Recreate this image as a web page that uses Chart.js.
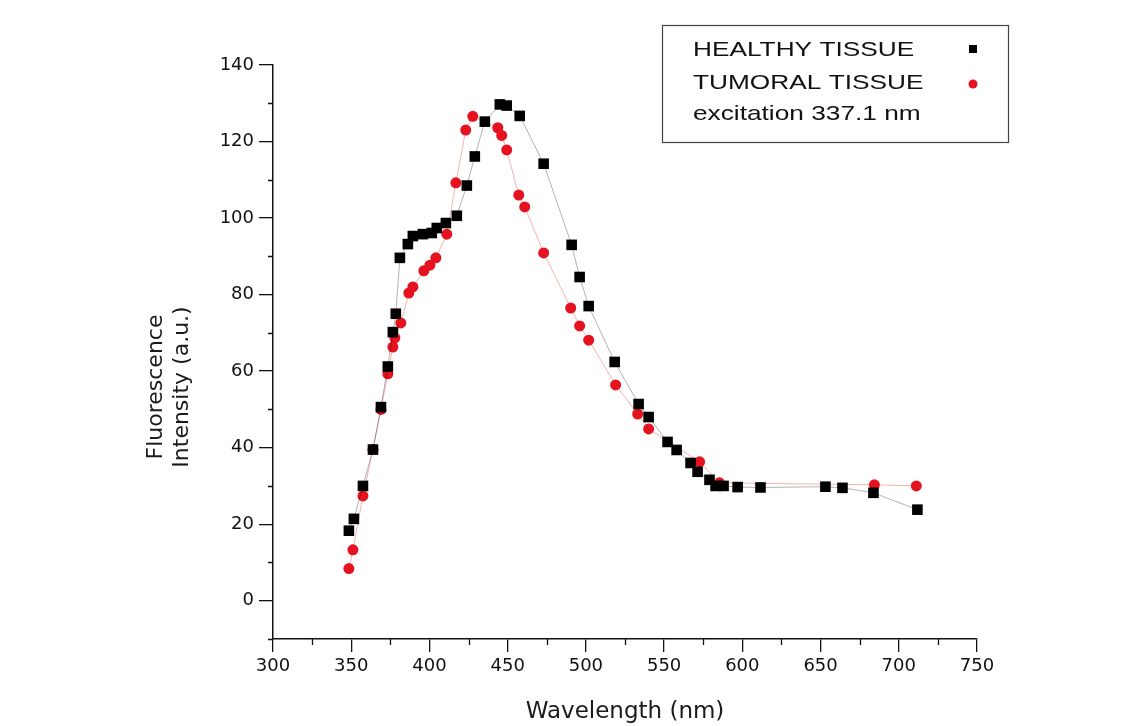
<!DOCTYPE html>
<html>
<head>
<meta charset="utf-8">
<script src="https://cdn.jsdelivr.net/npm/chart.js@4.4.1/dist/chart.umd.min.js"></script>
<style>
  html, body { margin:0; padding:0; background:#fff; }
  #wrap { width:1143px; height:726px; }
</style>
</head>
<body>
<div id="wrap"><canvas id="chart" width="1143" height="726"></canvas></div>
<script>
// healthy tissue (black squares)
const healthyWl = [348.5, 351.7, 357.5, 363.9, 369, 373.4, 376.6, 378.5, 381.1, 386.2, 389.4, 395.8,
  401.5, 404.7, 410.5, 417.5, 423.9, 429, 435.4, 445, 449.4, 457.7, 473, 490.9, 496, 501.8, 518.4,
  533.7, 540.1, 552.2, 558, 566.9, 571.4, 579, 582.9, 588, 597, 611.6, 653.1, 664, 683.8, 711.9];
const healthyInt = [18.3, 21.4, 30, 39.5, 50.6, 61.2, 70.2, 75, 89.6, 93.2, 95.3, 95.8,
  96.1, 97.4, 98.7, 100.6, 108.5, 116.1, 125.2, 129.7, 129.4, 126.7, 114.2, 93, 84.6, 77, 62.4,
  51.4, 48, 41.5, 39.4, 36, 33.7, 31.6, 30, 30, 29.7, 29.6, 29.8, 29.5, 28.2, 23.8];

// tumoral tissue (red circles)
const tumoralWl = [348.5, 351.1, 357.5, 363.9, 369, 373.4, 376.6, 377.9, 381.7, 386.8, 389.4, 396.4,
  400.3, 404.1, 411.1, 416.9, 423.2, 427.7, 443.7, 446.2, 449.4, 457.1, 460.9, 473, 490.3, 496,
  501.8, 519, 533.1, 540.1, 572.7, 585.4, 684.4, 711.2];
const tumoralInt = [8.4, 13.3, 27.4, 39.5, 50, 59.3, 66.3, 68.7, 72.6, 80.4, 82, 86.2,
  87.7, 89.6, 95.8, 109.2, 123, 126.6, 123.6, 121.6, 117.8, 106, 102.9, 90.9, 76.5, 71.8,
  68.1, 56.4, 48.8, 44.9, 36.3, 30.8, 30.3, 30];

const xTicks = [300, 350, 400, 450, 500, 550, 600, 650, 700, 750];
const xMinor = [325, 375, 425, 475, 525, 575, 625, 675, 725];
const yTicks = [0, 20, 40, 60, 80, 100, 120, 140];
const yMinor = [-10, 10, 30, 50, 70, 90, 110, 130];

const yTitle = ["Fluorescence", "Intensity (a.u.)"];
const legendRows = ["HEALTHY TISSUE", "TUMORAL TISSUE", "excitation 337.1 nm"];

function toPoints(xs, ys){ return xs.map((x, i) => ({ x, y: ys[i] })); }

// short minor ticks on both axes + the two-line y title
const axisExtras = {
  id: "axisExtras",
  afterDraw(chart){
    const { ctx, chartArea, scales: { x, y } } = chart;
    ctx.save();
    ctx.strokeStyle = "#111";
    ctx.lineWidth = 1.3;
    ctx.beginPath();
    xMinor.forEach(v => {
      const px = Math.round(x.getPixelForValue(v)) + 0.5;
      ctx.moveTo(px, chartArea.bottom);
      ctx.lineTo(px, chartArea.bottom + 6);
    });
    yMinor.forEach(v => {
      const py = Math.round(y.getPixelForValue(v)) + 0.5;
      ctx.moveTo(chartArea.left, py);
      ctx.lineTo(chartArea.left - 5, py);
    });
    ctx.stroke();

    ctx.fillStyle = "#1a1a1a";
    ctx.font = '22px "DejaVu Sans", sans-serif';
    ctx.textAlign = "center";
    ctx.textBaseline = "middle";
    [156, 182].forEach((cx, i) => {
      ctx.save();
      ctx.translate(cx, 387);
      ctx.rotate(-Math.PI / 2);
      ctx.fillText(yTitle[i], 0, 0);
      ctx.restore();
    });
    ctx.restore();
  }
};

// boxed legend top right
const boxLegend = {
  id: "boxLegend",
  afterDraw(chart){
    const ctx = chart.ctx;
    ctx.save();
    ctx.strokeStyle = "#444";
    ctx.lineWidth = 1.2;
    ctx.strokeRect(662.5, 25.5, 346, 117);

    ctx.fillStyle = "#111";
    ctx.font = '21px "Liberation Sans", Arial, sans-serif';
    ctx.textBaseline = "middle";
    const rowsY = [50, 83, 114];
    legendRows.forEach((t, i) => {
      ctx.save();
      ctx.translate(693, rowsY[i]);
      ctx.scale(1.25, 1);
      ctx.fillText(t, 0, 0);
      ctx.restore();
    });

    ctx.fillStyle = "#000";
    ctx.fillRect(969, 45, 8, 8);
    ctx.fillStyle = "#e5131f";
    ctx.beginPath();
    ctx.arc(973, 84, 4.5, 0, Math.PI * 2);
    ctx.fill();
    ctx.restore();
  }
};

const tickFont = { family: "DejaVu Sans", size: 18 };

new Chart(document.getElementById("chart").getContext("2d"), {
  type: "scatter",
  data: {
    datasets: [
      {
        label: "HEALTHY TISSUE",
        data: toPoints(healthyWl, healthyInt),
        showLine: true,
        borderColor: "rgba(0,0,0,0.3)",
        borderWidth: 1,
        pointStyle: "rect",
        pointRadius: 7.5,
        pointBorderWidth: 0,
        pointBackgroundColor: "#000"
      },
      {
        label: "TUMORAL TISSUE",
        data: toPoints(tumoralWl, tumoralInt),
        showLine: true,
        borderColor: "rgba(230,60,60,0.4)",
        borderWidth: 1,
        pointStyle: "circle",
        pointRadius: 5.5,
        pointBorderWidth: 0,
        pointBackgroundColor: "#e5131f"
      }
    ]
  },
  options: {
    responsive: false,
    animation: false,
    layout: { padding: { left: 118, top: 65, right: 166, bottom: 0 } },
    plugins: { legend: { display: false }, tooltip: { enabled: false } },
    scales: {
      x: {
        type: "linear",
        min: 300, max: 750,
        afterBuildTicks: s => { s.ticks = xTicks.map(v => ({ value: v })); },
        afterFit: s => { s.height = 87; },
        grid: { drawOnChartArea: false, drawTicks: true, tickLength: 13, color: "#111", lineWidth: 1.3 },
        border: { display: true, color: "#111", width: 1.5 },
        ticks: { font: tickFont, color: "#111", padding: 4, maxRotation: 0 },
        title: { display: true, text: "Wavelength (nm)", color: "#1a1a1a",
          font: { family: "DejaVu Sans", size: 23 }, padding: { top: 0, bottom: 0 } }
      },
      y: {
        type: "linear",
        min: -10, max: 140,
        afterBuildTicks: s => { s.ticks = yTicks.map(v => ({ value: v })); },
        afterFit: s => { s.width = 155; },
        grid: { drawOnChartArea: false, drawTicks: true, tickLength: 14, color: "#111", lineWidth: 1.3 },
        border: { display: true, color: "#111", width: 1.5 },
        ticks: { font: tickFont, color: "#111", padding: 5 }
      }
    }
  },
  plugins: [axisExtras, boxLegend]
});
</script>
</body>
</html>
